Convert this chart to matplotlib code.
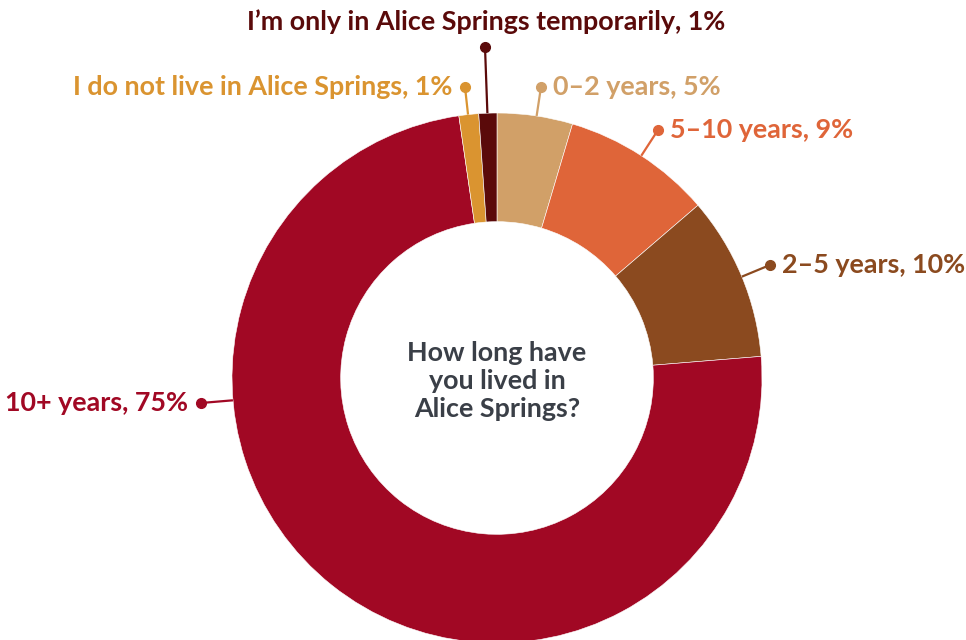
import numpy as np
import matplotlib.pyplot as plt

plt.rcParams['font.family'] = ['Lato', 'DejaVu Sans']

# data, clockwise from the top
labels = ["0\u20132 years", "5\u201310 years", "2\u20135 years", "10+ years",
          "I do not live in Alice Springs", "I\u2019m only in Alice Springs temporarily"]
pct_text = ["5%", "9%", "10%", "75%", "1%", "1%"]
shares = [4.6, 9.1, 10.0, 74.0, 1.2, 1.1]
colors = ["#D1A068", "#DF6539", "#8B4A1F", "#A10824", "#DA9430", "#5A0A0A"]

W, H = 966, 640
fig = plt.figure(figsize=(W / 100, H / 100), dpi=100)
ax = fig.add_axes([0, 0, 1, 1])

cx, cy = 497, H - 378
R = 265
ax.pie(shares, colors=colors, startangle=90, counterclock=False,
       center=(cx, cy), radius=R, frame=False,
       wedgeprops=dict(width=R * 0.41, edgecolor="white", linewidth=0.4))

# label dot positions (pixels from top-left) and text alignment
layout = [
    (541, 87, "left"),
    (658, 130, "left"),
    (770, 265, "left"),
    (201, 403, "right"),
    (465, 87, "right"),
    (485, 47, "top"),
]

fs = 19.4
for lab, pt, col, (px, py, side) in zip(labels, pct_text, colors, layout):
    dx, dy = px, H - py
    v = np.array([dx - cx, dy - cy])
    v = v / np.linalg.norm(v)
    ax.plot([cx + v[0] * R, dx], [cy + v[1] * R, dy], color=col, lw=1.6,
            solid_capstyle="butt", zorder=3)
    ax.plot(dx, dy, "o", color=col, ms=7, zorder=4)
    txt = lab + ", " + pt
    if side == "left":
        ax.text(dx + 12, dy, txt, color=col, fontsize=fs, fontweight="bold",
                ha="left", va="center")
    elif side == "right":
        ax.text(dx - 13, dy, txt, color=col, fontsize=fs, fontweight="bold",
                ha="right", va="center")
    else:
        ax.text(dx + 1, dy + 25, txt, color=col, fontsize=fs, fontweight="bold",
                ha="center", va="center")

ax.text(cx, cy - 3, "How long have\nyou lived in\nAlice Springs?", color="#3A3F47",
        fontsize=fs, fontweight="bold", ha="center", va="center",
        linespacing=1.22)

ax.set_xlim(0, W)
ax.set_ylim(0, H)
ax.set_aspect("equal")
ax.axis("off")

fig.savefig("out.png", dpi=100)
